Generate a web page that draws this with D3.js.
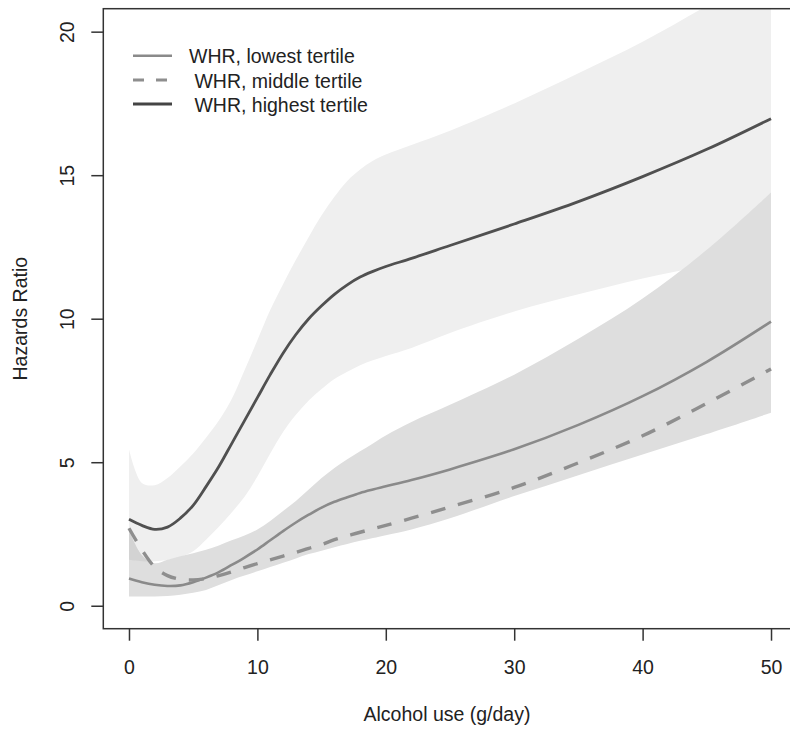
<!DOCTYPE html>
<html>
<head>
<meta charset="utf-8">
<script src="https://cdn.jsdelivr.net/npm/d3@7"></script>
<style>
  body { margin: 0; background: #fff; }
  text { font-family: "Liberation Sans", Arial, Helvetica, sans-serif; fill: #222; }
</style>
</head>
<body>
<script>
// alcohol use grid (g/day)
var alcohol = [0,1,2,3,4,5,6,7,8,9,10,11,12,13,14,15,16,17,18,19,20,22,25,30,35,40,45,50];

// hazard ratio curves
var lowest  = [0.95,0.82,0.73,0.69,0.71,0.82,0.98,1.17,1.42,1.68,1.96,2.28,2.6,2.9,3.17,3.42,3.62,3.78,3.93,4.05,4.16,4.38,4.75,5.45,6.3,7.3,8.5,9.9];
var middle  = [2.7,1.95,1.35,1.05,0.92,0.9,0.95,1.05,1.18,1.33,1.47,1.6,1.73,1.86,2.0,2.13,2.3,2.43,2.56,2.68,2.8,3.05,3.44,4.12,4.98,5.92,7.05,8.25];
var highest = [3.01,2.8,2.66,2.74,3.05,3.5,4.15,4.85,5.65,6.45,7.25,8.05,8.8,9.45,10.0,10.45,10.85,11.18,11.45,11.65,11.82,12.1,12.55,13.3,14.08,14.95,15.9,16.97];

// confidence bands
var highUpper = [5.45,4.28,4.2,4.45,4.85,5.3,5.85,6.45,7.2,8.2,9.25,10.3,11.2,12.05,12.85,13.6,14.25,14.8,15.2,15.5,15.72,16.05,16.55,17.5,18.55,19.65,20.9,22.2];
var highLower = [1.6,1.55,1.55,1.6,1.7,1.9,2.3,2.75,3.25,3.8,4.5,5.3,6.05,6.65,7.15,7.55,7.9,8.15,8.38,8.55,8.7,8.98,9.5,10.25,10.85,11.4,11.85,12.25];
var lowUpper  = [2.63,1.76,1.48,1.6,1.72,1.83,1.95,2.1,2.28,2.45,2.66,2.95,3.3,3.65,4.05,4.45,4.8,5.1,5.38,5.65,5.93,6.4,7.0,8.05,9.3,10.7,12.4,14.4];
var lowLower  = [0.32,0.32,0.32,0.34,0.38,0.45,0.55,0.72,0.9,1.05,1.2,1.35,1.5,1.65,1.8,1.92,2.04,2.15,2.26,2.36,2.46,2.66,3.05,3.82,4.55,5.27,5.98,6.72];

var xTicks = [0,10,20,30,40,50];
var yTicks = [0,5,10,15,20];
var legendLabels = ["WHR, lowest tertile", " WHR, middle tertile", " WHR, highest tertile"];

var width = 790,
	height = 731;

var svg = d3.select("body").append("svg")
	.attr("width", width)
	.attr("height", height);

var x = d3.scaleLinear().domain([-2, 52]).range([103.3, 796.7]);
var y = d3.scaleLinear().domain([-0.8, 20.8]).range([628.7, 8.7]);

svg.append("clipPath").attr("id", "plot")
	.append("rect")
	.attr("x", x(-2)).attr("y", y(20.8))
	.attr("width", x(52) - x(-2)).attr("height", y(-0.8) - y(20.8));

function rows(a, b) {
	return alcohol.map(function(d, i){ return {x: d, y0: a[i], y1: b ? b[i] : a[i]}; });
}

var smooth = d3.curveCatmullRom.alpha(0.5);

var area = d3.area().curve(smooth)
	.x(function(d){ return x(d.x); })
	.y0(function(d){ return y(d.y0); })
	.y1(function(d){ return y(d.y1); });

var line = d3.line().curve(smooth)
	.x(function(d){ return x(d.x); })
	.y(function(d){ return y(d.y0); });

var g = svg.append("g").attr("clip-path", "url(#plot)");

// bands
g.append("path").attr("d", area(rows(highLower, highUpper))).attr("fill", "#efefef");
g.append("path").attr("d", area(rows(lowLower, lowUpper))).attr("fill", "#dedede");

// where the two bands overlap near zero
svg.append("clipPath").attr("id", "lowband")
	.append("path").attr("d", area(rows(lowLower, lowUpper)));
g.append("path")
	.attr("d", area(rows(highLower, highUpper).slice(0, 4)))
	.attr("clip-path", "url(#lowband)")
	.attr("fill", "#d3d3d3");

// curves
g.append("path").attr("d", line(rows(lowest)))
	.attr("fill", "none").attr("stroke", "#8a8a8a").attr("stroke-width", 2.6);
g.append("path").attr("d", line(rows(middle)))
	.attr("fill", "none").attr("stroke", "#8e8e8e").attr("stroke-width", 3.4)
	.attr("stroke-dasharray", "15,13");
g.append("path").attr("d", line(rows(highest)))
	.attr("fill", "none").attr("stroke", "#505050").attr("stroke-width", 2.8);

// box
svg.append("rect")
	.attr("x", x(-2)).attr("y", y(20.8))
	.attr("width", x(52) - x(-2)).attr("height", y(-0.8) - y(20.8))
	.attr("fill", "none").attr("stroke", "#333").attr("stroke-width", 1.5);

// x axis
var xAxis = svg.append("g")
	.attr("transform", "translate(0," + y(-0.8) + ")")
	.call(d3.axisBottom(x).tickValues(xTicks).tickSize(12).tickPadding(19).tickSizeOuter(0));
xAxis.select(".domain").remove();
xAxis.selectAll("line").attr("stroke", "#333").attr("stroke-width", 1.5);
xAxis.selectAll("text")
	.style("font-family", "'Liberation Sans', Arial, sans-serif")
	.style("font-size", "19.5px").attr("fill", "#222");

// y axis
var yAxis = svg.append("g")
	.attr("transform", "translate(" + x(-2) + ",0)")
	.call(d3.axisLeft(y).tickValues(yTicks).tickSize(12).tickFormat(function(d){ return d; }));
yAxis.select(".domain").remove();
yAxis.selectAll("line").attr("stroke", "#333").attr("stroke-width", 1.5);
yAxis.selectAll("text").remove();
yAxis.selectAll(".tick").append("text")
	.attr("transform", "translate(-29,0) rotate(-90)")
	.attr("text-anchor", "middle")
	.style("font-size", "19.5px")
	.text(function(d){ return d; });

// axis titles
svg.append("text")
	.attr("x", (x(-2) + x(52)) / 2 - 3).attr("y", 721)
	.attr("text-anchor", "middle")
	.style("font-size", "19.5px")
	.text("Alcohol use (g/day)");

svg.append("text")
	.attr("transform", "translate(27," + (y(-0.8) + y(20.8)) / 2 + ") rotate(-90)")
	.attr("text-anchor", "middle")
	.style("font-size", "19.5px")
	.text("Hazards Ratio");

// legend
var legendStyles = [
	{stroke: "#8a8a8a", width: 2.6, dash: null},
	{stroke: "#8e8e8e", width: 3, dash: "11,12"},
	{stroke: "#444", width: 3, dash: null}
];
var legend = svg.selectAll(".legend").data(legendLabels).enter().append("g")
	.attr("class", "legend")
	.attr("transform", function(d, i){ return "translate(133," + (55.7 + i * 24.2) + ")"; });
legend.append("line")
	.attr("x1", 0).attr("x2", 39)
	.attr("stroke", function(d, i){ return legendStyles[i].stroke; })
	.attr("stroke-width", function(d, i){ return legendStyles[i].width; })
	.attr("stroke-dasharray", function(d, i){ return legendStyles[i].dash; });
legend.append("text")
	.attr("x", 56).attr("y", 7.6)
	.style("font-size", "19.5px")
	.style("white-space", "pre")
	.attr("xml:space", "preserve")
	.text(function(d){ return d; });
</script>
</body>
</html>
